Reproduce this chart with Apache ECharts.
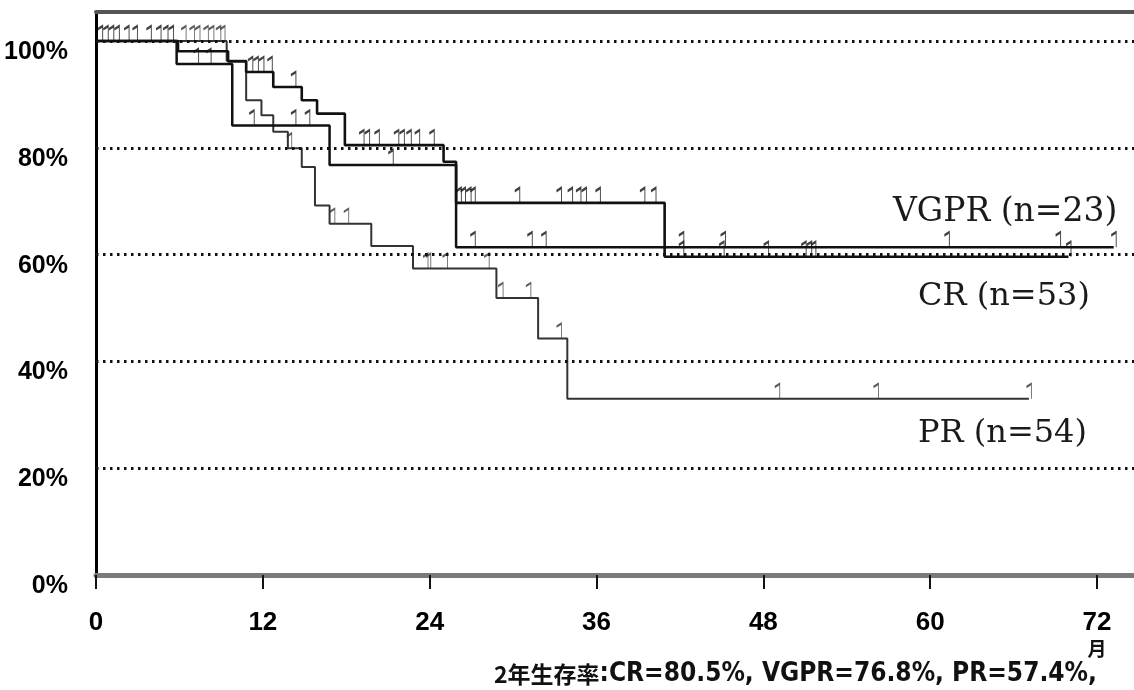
<!DOCTYPE html>
<html>
<head>
<meta charset="utf-8">
<script src="https://cdn.jsdelivr.net/npm/echarts@6/dist/echarts.min.js"></script>
<style>
html,body{margin:0;padding:0;background:#fff;}
#chart{width:1134px;height:690px;}
</style>
</head>
<body>
<div id="chart"></div>
<script>
// ---- data (months, survival %) ----
const crTimes   = [0, 5.9, 9.5, 10.8, 12.75, 14.8, 15.9, 17.9, 25.0, 25.9, 40.9, 69.95];
const crSurv    = [100, 98.1, 96.2, 94.2, 91.4, 88.9, 86.4, 80.5, 77.4, 69.7, 59.6, 59.6];
const crCensor  = [0.3, 0.7, 1.1, 1.5, 2.2, 2.8, 3.8, 4.5, 5.0, 5.4, 11.1, 11.5, 11.9, 12.5, 14.2,
                   19.1, 19.5, 20.2, 21.6, 22.0, 22.5, 23.1, 24.15,
                   26.1, 26.4, 26.8, 27.1, 30.3, 33.3, 34.1, 34.7, 35.1, 36.1, 39.3, 40.1,
                   42.1, 45.0, 48.2, 50.9, 51.3, 51.6, 69.95];

const vgprTimes  = [0, 5.8, 9.8, 16.8, 25.9, 73.2];
const vgprSurv   = [100, 95.7, 84.2, 76.8, 61.4, 61.4];
const vgprCensor = [7.2, 8.1, 11.2, 14.2, 15.2, 21.2, 27.1, 31.2, 32.2, 42.1, 45.1, 61.2, 69.2, 73.2];

const prTimes   = [0, 9.4, 10.8, 11.9, 12.75, 13.8, 14.8, 15.75, 16.8, 19.8, 22.8, 28.8, 31.8, 33.9, 67.1];
const prSurv    = [100, 96.3, 88.9, 86.1, 83.0, 79.9, 76.4, 69.2, 65.8, 61.6, 57.4, 51.9, 44.3, 33.0, 33.0];
const prCensor  = [6.3, 6.9, 7.3, 7.9, 8.3, 8.8, 9.1, 13.9, 17.0, 18.0, 23.7, 23.9, 25.1, 28.1, 29.1, 31.1, 33.3, 49.0, 56.1, 67.1];

const xTicks = [0, 12, 24, 36, 48, 60, 72];
const yTicks = [0, 20, 40, 60, 80, 100];
const gridValues = [20, 40, 60, 80, 100];

const seriesLabels = ['VGPR (n=23)', 'CR (n=53)', 'PR (n=54)'];
const footnoteHead = '2年生存率';
const footnoteBody = ':CR=80.5%, VGPR=76.8%, PR=57.4%,';
const xUnit = '月';

// ---- helpers ----
function stepAt(times, surv, t) {
  let v = surv[0];
  for (let i = 0; i < times.length; i++) { if (times[i] <= t) v = surv[i]; }
  return v;
}
function curve(times, surv) { return times.map((t, i) => [t, surv[i]]); }
function censors(times, surv, cs) { return cs.map(t => [t, stepAt(times, surv, t)]); }

const NUMFONT = "'Liberation Sans',Arial,sans-serif";
const CONDFONT = "'DejaVu Sans Condensed','DejaVu Sans',sans-serif";
const SERIF = "'DejaVu Serif','Liberation Serif',serif";
const CJK = "'Noto Sans CJK JP','Noto Sans CJK SC',sans-serif";
const tickSym = 'path://M0,3L3,0L3,14';

function censorSeries(name, data, color, w) {
  return {
    name: name, type: 'scatter', data: data, silent: true,
    symbol: tickSym, symbolSize: [5, 15], symbolOffset: [0, -7.5],
    itemStyle: { color: 'rgba(0,0,0,0)', borderColor: color, borderWidth: w },
    z: 4
  };
}

const chart = echarts.init(document.getElementById('chart'), null, { renderer: 'canvas' });
const option = {
  animation: false,
  backgroundColor: '#fff',
  grid: { left: 96, right: 0, top: 12, bottom: 115, containLabel: false, outerBoundsMode: 'none' },
  xAxis: [{
    type: 'value', min: 0, max: 74.66, interval: 12,
    axisLine: { show: true, onZero: false, lineStyle: { color: '#7a7a7a', width: 5 } },
    axisTick: { show: true, customValues: xTicks, length: 14, lineStyle: { color: '#111', width: 2 } },
    axisLabel: {
      customValues: xTicks, margin: 34,
      formatter: v => v === 72 ? '{a|72}\n{b|' + xUnit + '}' : '{a|' + v + '}',
      rich: {
        a: { fontFamily: NUMFONT, fontWeight: 'bold', fontSize: 26, color: '#000', lineHeight: 28 },
        b: { fontFamily: CJK, fontWeight: 'bold', fontSize: 19, color: '#111', lineHeight: 24 }
      }
    },
    splitLine: { show: false }
  }, {
    type: 'value', position: 'top', min: 0, max: 74.66,
    axisLine: { show: true, onZero: false, lineStyle: { color: '#555', width: 4 } },
    axisTick: { show: false }, axisLabel: { show: false }, splitLine: { show: false }
  }],
  yAxis: {
    type: 'value', min: 0, max: 105.44, interval: 20,
    axisLine: { show: true, onZero: false, lineStyle: { color: '#000', width: 3 } },
    axisTick: { show: false },
    axisLabel: {
      customValues: yTicks, margin: 28, formatter: '{value}%',
      fontFamily: NUMFONT, fontWeight: 'bold', fontSize: 25, color: '#000',
      verticalAlign: 'top', lineHeight: 22
    },
    splitLine: { show: false }
  },
  series: [
    {
      name: 'grid', type: 'line', data: [], silent: true, z: 1,
      markLine: {
        silent: true, symbol: 'none', label: { show: false },
        lineStyle: { color: '#111', width: 3, type: [2.5, 4.5] },
        emphasis: { disabled: true },
        data: gridValues.map(v => ({ yAxis: v }))
      }
    },
    {
      name: 'PR', type: 'line', step: 'end', symbol: 'none', silent: true, z: 2,
      data: curve(prTimes, prSurv),
      lineStyle: { color: '#333', width: 2 }
    },
    {
      name: 'VGPR', type: 'line', step: 'end', symbol: 'none', silent: true, z: 3,
      data: curve(vgprTimes, vgprSurv),
      lineStyle: { color: '#111', width: 2.5 }
    },
    {
      name: 'CR', type: 'line', step: 'end', symbol: 'none', silent: true, z: 3,
      data: curve(crTimes, crSurv),
      lineStyle: { color: '#111', width: 2.6 }
    },
    censorSeries('PR censored', censors(prTimes, prSurv, prCensor), '#333', 1.4),
    censorSeries('VGPR censored', censors(vgprTimes, vgprSurv, vgprCensor), '#111', 1.6),
    censorSeries('CR censored', censors(crTimes, crSurv, crCensor), '#111', 1.6)
  ],
  graphic: [
    { type: 'text', left: 893, top: 196, silent: true,
      style: { text: seriesLabels[0], font: '33px ' + SERIF, fill: '#1a1a1a' } },
    { type: 'text', left: 918, top: 281, silent: true,
      style: { text: seriesLabels[1], font: '32px ' + SERIF, fill: '#1a1a1a' } },
    { type: 'text', left: 918, top: 418, silent: true,
      style: { text: seriesLabels[2], font: '32px ' + SERIF, fill: '#1a1a1a' } },
    { type: 'text', left: 494, top: 661, silent: true,
      style: {
        text: '{h|' + footnoteHead + '}{b|' + footnoteBody + '}',
        rich: {
          h: { fontFamily: CJK, fontWeight: 'bold', fontSize: 23, fill: '#111' },
          b: { fontFamily: CONDFONT, fontWeight: 'bold', fontSize: 26, fill: '#111' }
        }
      } }
  ]
};
chart.setOption(option);
</script>
</body>
</html>
